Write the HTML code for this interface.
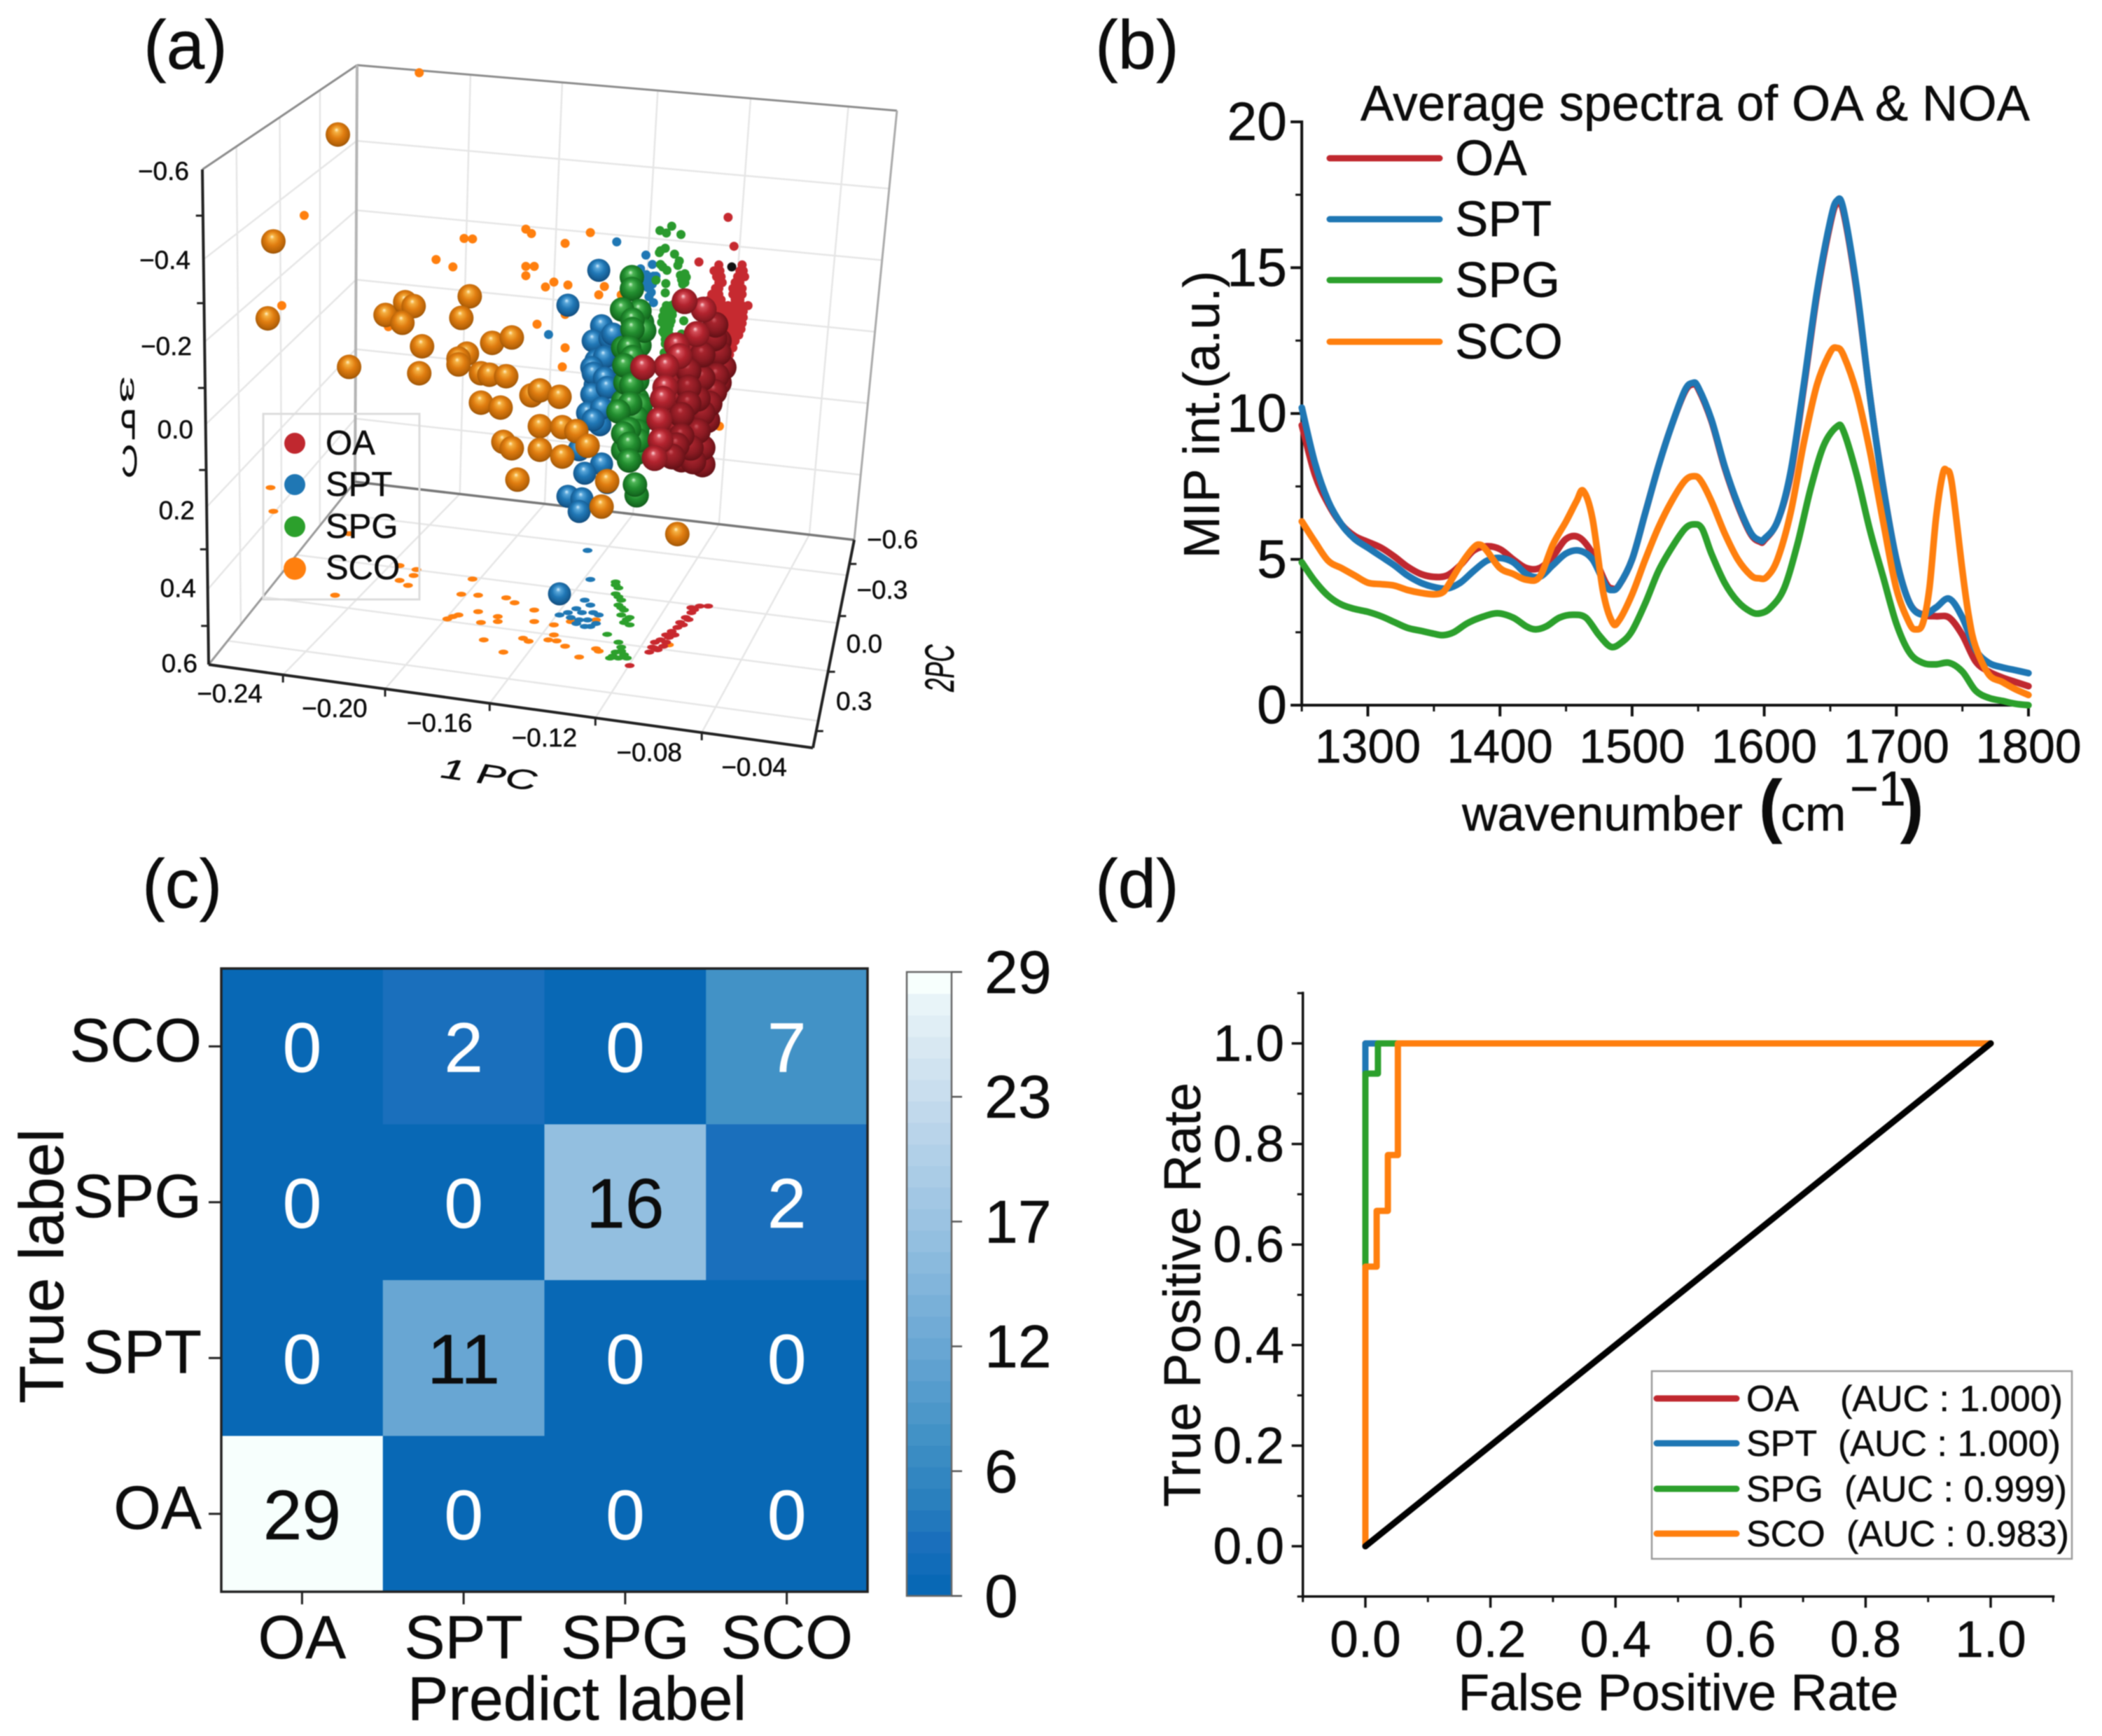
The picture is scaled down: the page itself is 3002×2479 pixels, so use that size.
<!DOCTYPE html>
<html lang="en">
<head>
<meta charset="utf-8">
<title>OA and NOA classification figure</title>
<style>
html,body{margin:0;padding:0;background:#fff;}
svg{display:block;filter:blur(0.7px);}
text{font-family:"Liberation Sans",sans-serif;fill:#0c0c0c;stroke:#0c0c0c;stroke-width:.5px;}
</style>
</head>
<body>
<svg id="figure" xmlns="http://www.w3.org/2000/svg" width="3002" height="2479" viewBox="0 0 3002 2479">
<defs>
<radialGradient id="ball-SCO" cx=".5" cy=".46" r=".56" fx=".44" fy=".3"><stop offset="0" stop-color="#fff4cc"/><stop offset=".17" stop-color="#f5b041"/><stop offset=".5" stop-color="#e07d10"/><stop offset=".85" stop-color="#b66207"/><stop offset="1" stop-color="#8e4c04"/></radialGradient>
<radialGradient id="ball-OA" cx=".5" cy=".46" r=".56" fx=".44" fy=".3"><stop offset="0" stop-color="#ffd8dc"/><stop offset=".18" stop-color="#d5505a"/><stop offset=".5" stop-color="#b2232e"/><stop offset=".85" stop-color="#8a1a22"/><stop offset="1" stop-color="#6e1218"/></radialGradient>
<radialGradient id="ball-OA-back" cx=".5" cy=".46" r=".56" fx=".44" fy=".3"><stop offset="0" stop-color="#cc5a62"/><stop offset=".2" stop-color="#a6242d"/><stop offset=".6" stop-color="#8a1a22"/><stop offset="1" stop-color="#5e0f14"/></radialGradient>
<radialGradient id="ball-SPT" cx=".5" cy=".46" r=".56" fx=".44" fy=".3"><stop offset="0" stop-color="#d8f0ff"/><stop offset=".18" stop-color="#58a6da"/><stop offset=".5" stop-color="#2178b6"/><stop offset=".85" stop-color="#155a90"/><stop offset="1" stop-color="#0e4270"/></radialGradient>
<radialGradient id="ball-SPG" cx=".5" cy=".46" r=".56" fx=".44" fy=".3"><stop offset="0" stop-color="#d8f8d8"/><stop offset=".18" stop-color="#4fb657"/><stop offset=".5" stop-color="#238f30"/><stop offset=".85" stop-color="#156c20"/><stop offset="1" stop-color="#0e5016"/></radialGradient>
</defs>

<g id="panel-letters" font-size="98">
<text x="205" y="98">(a)</text>
<text x="1564" y="98">(b)</text>
<text x="203" y="1296">(c)</text>
<text x="1564" y="1296">(d)</text>
</g>

<g id="panel-a"></g>
<g id="panel-a-text">
<g font-size="46">
<text transform="translate(172,537) rotate(90) scale(1.5,.6)">3</text>
<text transform="translate(195,627) scale(-.75,1.3)">P</text>
<text transform="translate(197,680) scale(-.7,1.35)">C</text>
</g>
<text font-size="40" transform="translate(628,1110) rotate(8) scale(1.55,1)" font-style="italic">1 PC</text>
<text font-size="58" transform="translate(1362,988) rotate(-90) scale(.6,1)" font-style="italic">2PC</text>
<rect x="376" y="591" width="223" height="265" fill="none" stroke="#dcdcdc" stroke-width="3"/>
<circle cx="421" cy="633" r="15" fill="#c0282f"/>
<circle cx="421" cy="692" r="15" fill="#1f77b4"/>
<circle cx="421" cy="752" r="15" fill="#2ca02c"/>
<circle cx="421" cy="812" r="16" fill="#ff7f0e"/>
<g font-size="49">
<text x="465" y="649">OA</text>
<text x="465" y="708">SPT</text>
<text x="465" y="768">SPG</text>
<text x="465" y="827">SCO</text>
</g>
</g>

<g id="panel-b"></g>
<g id="panel-b-text">
<text x="1943" y="172" font-size="71" textLength="956">Average spectra of OA &amp; NOA</text>
<text font-size="72" transform="translate(1741,592) rotate(-90)" text-anchor="middle">MIP int.(a.u.)</text>
<text x="2088" y="1186" font-size="70">wavenumber</text>
<text x="2512" y="1184" font-size="100" font-weight="bold">(</text>
<text x="2543" y="1186" font-size="70">cm</text>
<text x="2642" y="1150" font-size="70">−1</text>
<text x="2714" y="1184" font-size="100" font-weight="bold">)</text>
<g font-size="71">
<text x="2078" y="250">OA</text>
<text x="2078" y="337">SPT</text>
<text x="2078" y="424">SPG</text>
<text x="2078" y="512">SCO</text>
</g>
</g>

<g id="panel-c"></g>
<g id="panel-c-text">
<text x="824" y="2456" font-size="88" text-anchor="middle">Predict label</text>
<text font-size="89" transform="translate(90,1808) rotate(-90)" text-anchor="middle">True label</text>
</g>

<g id="panel-d"></g>
<g id="panel-d-text">
<text x="2397" y="2442" font-size="73" text-anchor="middle">False Positive Rate</text>
<text font-size="74" transform="translate(1714,1849) rotate(-90)" text-anchor="middle">True Positive Rate</text>
<rect x="2359" y="1958" width="600" height="268" fill="#fff" stroke="#9a9a9a" stroke-width="2.5"/>
<line x1="2366" x2="2480" y1="1997" y2="1997" stroke="#c0282f" stroke-width="9" stroke-linecap="round"/>
<line x1="2366" x2="2480" y1="2061" y2="2061" stroke="#1f77b4" stroke-width="9" stroke-linecap="round"/>
<line x1="2366" x2="2480" y1="2126" y2="2126" stroke="#2ca02c" stroke-width="9" stroke-linecap="round"/>
<line x1="2366" x2="2480" y1="2190" y2="2190" stroke="#ff7f0e" stroke-width="9" stroke-linecap="round"/>
<g font-size="52">
<text x="2494" y="2015">OA</text>
<text x="2628" y="2015">(AUC : 1.000)</text>
<text x="2494" y="2079">SPT</text>
<text x="2625" y="2079">(AUC : 1.000)</text>
<text x="2494" y="2144">SPG</text>
<text x="2634" y="2144">(AUC : 0.999)</text>
<text x="2494" y="2208">SCO</text>
<text x="2637" y="2208">(AUC : 0.983)</text>
</g>
</g>
</svg>

<script>
/* ---------- panel (a) data: PC scores ---------- */
const spheresSPT = [[-.102,-.162],[-.0986,-.138],[-.1003,-.105],[-.1053,-.086],[-.1028,-.057],[-.1003,-.052],[-.1061,-.038],[-.1036,-.005],[-.0995,-.167],[-.104,-.320],[-.115,-.249],[-.103,-.207],[-.106,-.176],[-.100,-.181],[-.099,-.190],[-.105,-.136],[-.102,-.143],[-.1065,-.122],[-.106,-.110],[-.102,-.100],[-.1065,-.067],[-.101,-.081],[-.108,-.029],[-.103,-.039],[-.106,-.015],[-.103,.075],[-.109,.094],[-.111,.046],[-.115,.141],[-.110,.146],[-.111,.172],[-.101,.113],[-.118,.340]];
const spheresSCO = [[-.197,-.597],[-.220,-.379],[-.222,-.222],[-.193,-.123],[-.180,-.229],[-.173,-.255],[-.170,-.247],[-.174,-.213],[-.150,-.267],[-.153,-.223],[-.167,-.165],[-.168,-.110],[-.142,-.172],[-.135,-.183],[-.151,-.150],[-.154,-.140],[-.154,-.128],[-.146,-.110],[-.143,-.107],[-.137,-.104],[-.146,-.050],[-.139,-.040],[-.128,-.065],[-.125,-.075],[-.118,-.062],[-.125,-.002],[-.117,0],[-.112,.008],[-.138,.030],[-.135,.043],[-.125,.046],[-.117,.060],[-.108,.038],[-.133,.107],[-.101,.110],[-.103,.162],[-.076,.218]];
const spheresSPG = [[-.0953,-.053],[-.0903,-.057],[-.0886,-.014],[-.092,-.024],[-.0895,-.167],[-.0953,-.162],[-.0945,-.091],[-.0903,-.095],[-.0903,.052],[-.0953,.047],[-.0941,.009],[-.0907,-.129],[-.0886,-.214],[-.0922,-.306],[-.0922,-.282],[-.0895,-.237],[-.0878,-.197],[-.0957,-.240],[-.092,-.219],[-.092,-.200],[-.0932,-.162],[-.092,-.143],[-.0949,-.126],[-.0924,-.086],[-.0891,-.044],[-.0907,-.020],[-.0928,-.048],[-.097,-.032],[-.0903,.008],[-.0899,.027],[-.0932,.004],[-.0953,.013],[-.0932,.034],[-.0932,.068],[-.0905,.139],[-.0911,.117]];
const spheresOABack = [[-.0637,-.138],[-.0703,-.162],[-.0612,-.091],[-.0653,-.014],[-.0778,-.091],[-.0762,-.062],[-.0778,-.029],[-.0762,.005],[-.072,-.005],[-.067,-.076],[-.0637,-.105],[-.0687,.047],[-.0612,-.176],[-.0653,-.162],[-.072,.066],[-.0745,.066],[-.0803,.052],[-.0778,.028],[-.062,-.133],[-.067,.076],[-.0703,-.124],[-.0687,-.019],[-.072,.028],[-.0595,-.122],[-.0612,-.152],[-.0628,-.181],[-.0624,-.209],[-.062,-.105],[-.0628,-.072],[-.0645,-.048],[-.067,-.100],[-.067,-.148],[-.067,-.029],[-.067,.042],[-.0687,-.058],[-.0687,.008],[-.0703,.070],[-.0712,.042],[-.072,-.115],[-.072,-.081],[-.072,-.048],[-.0745,-.025],[-.0745,.018],[-.0762,.037],[-.0778,.060]];
const spheresOA = [[-.0666,-.240],[-.0691,-.190],[-.0734,-.257],[-.0762,-.167],[-.0753,-.145],[-.0799,-.124],[-.0882,-.122],[-.0803,-.081],[-.0812,-.058],[-.0824,-.015],[-.082,.027],[-.0841,.063]];

const wallSCO = [[-.168,-.723],[-.209,-.432],[-.217,-.248],[-.152,-.385],[-.149,-.384],[-.162,-.342],[-.156,-.327],[-.130,-.404],[-.128,-.395],[-.116,-.375],[-.107,-.397],[-.130,-.328],[-.127,-.328],[-.130,-.309],[-.123,-.286],[-.120,-.296],[-.115,-.290],[-.102,-.287],[-.104,-.270],[-.096,-.270],[-.126,-.210],[-.116,-.230],[-.116,-.162],[-.117,-.123],[-.179,-.205],[-.061,-.002]];
const wallSPT = [[-.0976,-.378],[-.0872,-.351],[-.0849,-.332],[-.0891,-.323],[-.1219,-.189],[-.0861,-.304],[-.0874,-.294],[-.0845,-.308],[-.0866,-.285],[-.0853,-.275],[-.0861,-.266],[-.0845,-.254],[-.0849,-.292],[-.087,-.311],[-.0836,-.308]];
const wallSPG = [[-.078,-.410],[-.0822,-.401],[-.0799,-.396],[-.0747,-.393],[-.082,-.360],[-.0803,-.365],[-.0824,-.356],[-.077,-.353],[-.0753,-.339],[-.082,-.332],[-.0812,-.327],[-.0797,-.320],[-.0733,-.313],[-.0745,-.301],[-.0728,-.306],[-.0836,-.300],[-.0801,-.293],[-.0741,-.292],[-.0803,-.274],[-.0791,-.247],[-.0803,-.228],[-.0778,-.237],[-.0807,-.209],[-.0787,-.209],[-.0799,-.185],[-.0782,-.185],[-.0737,-.217],[-.0745,-.190],[-.0807,-.152],[-.0812,-.195],[-.077,-.252],[-.0787,-.223],[-.0803,-.170],[-.0791,-.160],[-.0799,-.248],[-.0782,-.248],[-.0807,-.238],[-.0791,-.238],[-.0774,-.243],[-.0812,-.226],[-.0795,-.226],[-.0778,-.229],[-.0816,-.214],[-.0799,-.214],[-.0782,-.217],[-.0807,-.2],[-.0791,-.2],[-.0807,-.191],[-.0791,-.191],[-.0803,-.179],[-.0787,-.186],[-.0758,-.33],[-.0749,-.31],[-.0741,-.3],[-.0733,-.295]];
const wallOA = [[-.0579,-.428],[-.0558,-.369],[-.0683,-.337],[-.0612,-.331],[-.0529,-.331],[-.0629,-.319],[-.0608,-.319],[-.0537,-.319],[-.0525,-.319],[-.062,-.307],[-.0604,-.307],[-.0545,-.307],[-.052,-.307],[-.0612,-.295],[-.06,-.295],[-.0554,-.295],[-.0537,-.295],[-.0624,-.283],[-.0612,-.283],[-.0562,-.283],[-.0541,-.283],[-.0529,-.283],[-.0637,-.271],[-.0612,-.271],[-.0562,-.271],[-.0545,-.271],[-.0529,-.271],[-.0645,-.26],[-.0629,-.26],[-.0604,-.26],[-.0554,-.26],[-.0537,-.26],[-.0629,-.248],[-.0612,-.248],[-.0595,-.248],[-.0579,-.248],[-.0562,-.248],[-.0545,-.248],[-.0529,-.248],[-.0508,-.248],[-.062,-.236],[-.0604,-.236],[-.0587,-.236],[-.057,-.236],[-.0554,-.236],[-.0537,-.236],[-.0525,-.236],[-.0587,-.224],[-.057,-.224],[-.0554,-.224],[-.0537,-.224],[-.0525,-.224],[-.0579,-.212],[-.0562,-.212],[-.0545,-.212],[-.0529,-.212],[-.0579,-.2],[-.0562,-.2],[-.0545,-.2],[-.0533,-.2],[-.057,-.188],[-.0554,-.188],[-.0541,-.188],[-.057,-.176],[-.0554,-.176],[-.0574,-.162],[-.0562,-.162],[-.0574,-.148]];
const wallBlack = [[-.0566,-.327]];

const floorSCO = [[-.221,-.708],[-.220,-.588],[-.193,-.475],[-.175,-.313],[-.169,-.293],[-.175,-.238],[-.170,-.263],[-.172,-.213],[-.198,-.163],[-.149,-.245],[-.153,-.168],[-.147,-.163],[-.137,-.150],[-.134,-.125],[-.127,-.088],[-.147,-.080],[-.156,-.055],[-.158,-.043],[-.154,-.063],[-.140,-.055],[-.146,-.025],[-.140,-.030],[-.127,-.030],[-.120,-.013],[-.114,-.030],[-.120,.038],[-.145,.063],[-.131,.055],[-.129,.070],[-.122,.063],[-.119,.068],[-.138,.125],[-.116,.095],[-.111,.150],[-.105,.108],[-.104,.120],[-.105,-.038],[-.079,.088]];
const floorSPT = [[-.108,-.390],[-.107,-.243],[-.109,-.138],[-.107,-.113],[-.112,-.095],[-.115,-.075],[-.118,-.063],[-.114,-.050],[-.110,-.075],[-.106,-.075],[-.104,-.063],[-.111,-.038],[-.108,-.038],[-.105,-.020],[-.112,-.020],[-.109,-.005],[-.107,-.005]];
const floorSPG = [[-.098,-.230],[-.097,-.200],[-.098,-.170],[-.096,-.138],[-.097,-.113],[-.095,-.088],[-.096,-.063],[-.093,-.050],[-.095,-.025],[-.093,-.013],[-.101,.035],[-.097,.075],[-.096,.100],[-.098,.125],[-.095,.138],[-.100,.155],[-.097,.155],[-.094,.155],[-.098,-.215],[-.097,-.155],[-.096,-.100],[-.094,-.040],[-.099,.145],[-.096,.120]];
const floorOA = [[-.065,-.108],[-.068,-.108],[-.071,-.100],[-.071,-.075],[-.073,-.050],[-.075,-.025],[-.076,0],[-.078,.020],[-.080,.038],[-.082,.063],[-.084,.075],[-.085,.100],[-.086,.125],[-.083,.113],[-.080,.075],[-.077,.038],[-.074,-.013],[-.093,.193],[-.070,-.090],[-.072,-.040],[-.079,.050],[-.081,.095],[-.084,.105]];

const pc1TickLabels = [-0.24,-0.20,-0.16,-0.12,-0.08,-0.04];
const pc2TickLabels = [-0.6,-0.3,0.0,0.3];
const pc3TickLabels = [-0.6,-0.4,-0.2,0.0,0.2,0.4,0.6];

/* ---------- panel (b) data ---------- */
const sharedWavenumbers = [1250,1260,1270,1280,1290,1300,1310,1320,1330,1340,1350,1360,1370,1380,1390,1400,1410,1420,1430,1440,1450,1460,1470,1480,1485,1490,1500,1510,1520,1530,1540,1546,1550,1560,1570,1580,1590,1597,1600,1610,1620,1630,1640,1650,1655,1660,1670,1680,1690,1700,1710,1720,1730,1740,1750,1760,1770,1780,1790,1800];
const intensityOA = [9.6,7.9,6.9,6.2,5.8,5.6,5.4,5.1,4.75,4.5,4.4,4.45,4.8,5.3,5.45,5.35,5,4.7,4.7,5.1,5.7,5.75,5.2,4.2,4,4.1,5,6.6,8.2,9.6,10.75,11,10.85,9.75,8.15,6.85,5.85,5.6,5.65,6.3,7.9,10.9,14.1,16.5,17.2,16.9,14.2,10.6,7.5,5,3.5,3.1,3.05,3,2.4,1.5,1.15,.95,.8,.65];
const intensitySPT = [10.2,8.3,7,6.2,5.7,5.4,5.1,4.8,4.45,4.2,4.05,4,4.2,4.6,4.95,5.05,4.9,4.5,4.4,4.8,5.2,5.3,5,4.1,3.95,4.1,5,6.6,8.2,9.6,10.8,11.05,10.9,9.8,8.2,6.9,5.9,5.65,5.7,6.3,8,11,14.2,16.6,17.3,17,14.3,10.6,7.5,5,3.5,3.1,3.35,3.65,3,1.9,1.45,1.3,1.2,1.1];
const spectrumSPG = [[1250,4.9],[1260,4.25],[1270,3.75],[1280,3.45],[1290,3.3],[1300,3.2],[1310,3.05],[1320,2.85],[1330,2.65],[1340,2.55],[1350,2.45],[1357,2.4],[1365,2.5],[1375,2.8],[1385,3],[1398,3.15],[1410,3],[1420,2.7],[1427,2.6],[1435,2.7],[1445,3],[1455,3.1],[1465,3],[1475,2.4],[1484,2],[1492,2.15],[1500,2.55],[1510,3.5],[1520,4.6],[1530,5.4],[1540,6.05],[1547,6.2],[1553,6.05],[1560,5.2],[1570,4.2],[1580,3.55],[1590,3.2],[1597,3.15],[1605,3.35],[1615,4],[1625,5.5],[1635,7.4],[1645,8.9],[1655,9.55],[1660,9.4],[1670,7.9],[1680,6],[1690,4.4],[1700,2.8],[1710,1.8],[1720,1.45],[1730,1.4],[1740,1.45],[1750,1.15],[1760,.5],[1770,.25],[1780,.15],[1790,.05],[1800,0]];
const spectrumSCO = [[1250,6.3],[1260,5.6],[1270,4.95],[1280,4.7],[1290,4.45],[1300,4.2],[1310,4.15],[1320,4.1],[1330,3.95],[1340,3.85],[1350,3.8],[1356,3.85],[1360,4.05],[1370,4.8],[1380,5.4],[1385,5.5],[1390,5.3],[1400,4.7],[1410,4.5],[1420,4.3],[1430,4.4],[1440,5.5],[1450,6.3],[1458,7],[1463,7.35],[1470,6.4],[1478,3.9],[1485,2.85],[1490,2.9],[1500,3.8],[1510,5],[1520,6.1],[1530,7],[1540,7.7],[1547,7.85],[1552,7.7],[1560,7],[1570,5.9],[1580,5],[1590,4.45],[1596,4.35],[1602,4.4],[1610,5],[1620,6.6],[1630,9],[1640,11],[1650,12.1],[1655,12.25],[1660,12],[1670,10.7],[1680,8.7],[1690,6.3],[1700,4],[1710,2.8],[1715,2.6],[1720,2.8],[1725,4],[1730,6.4],[1735,7.9],[1738,8.05],[1742,7.6],[1750,4.6],[1755,3],[1760,2],[1770,1.05],[1780,.8],[1790,.55],[1800,.35]];
const spectraXTicks = [1300,1400,1500,1600,1700,1800];
const spectraXMinor = [1250,1350,1450,1550,1650,1750];
const spectraYTicks = [0,5,10,15,20];
const spectraYMinor = [2.5,7.5,12.5,17.5];

/* ---------- panel (c) data ---------- */
const predictLabels = ['OA','SPT','SPG','SCO'];
const trueLabels = ['SCO','SPG','SPT','OA'];
const matrixRowSCO = [0,2,0,7];
const matrixRowSPG = [0,0,16,2];
const matrixRowSPT = [0,11,0,0];
const matrixRowOA = [29,0,0,0];
const colorbarTicks = [0,5.8,11.6,17.4,23.2,29];
const colorbarLabels = ['0','6','12','17','23','29'];

/* ---------- panel (d) data ---------- */
const fprOA = [0,0,1];
const tprOA = [0,1,1];
const fprSPT = [0,0,1];
const tprSPT = [0,1,1];
const fprSPG = [0,0,.02,.02,1];
const tprSPG = [0,.94,.94,1,1];
const fprSCO = [0,0,.018,.018,.036,.036,.052,.052,1];
const tprSCO = [0,.556,.556,.667,.667,.778,.778,1,1];
const fprChance = [0,1];
const tprChance = [0,1];
const rocTicks = [0,.2,.4,.6,.8,1];
const rocMinor = [-.1,.1,.3,.5,.7,.9,1.1];

/* ---------- helpers ---------- */
const NS = 'http://www.w3.org/2000/svg';
function mk(tag, attrs, parent){
  const el = document.createElementNS(NS, tag);
  for (const k in attrs) el.setAttribute(k, attrs[k]);
  parent.appendChild(el);
  return el;
}
function smoothPath(pts){
  let d = 'M' + pts[0][0].toFixed(1) + ' ' + pts[0][1].toFixed(1);
  for (let i = 0; i < pts.length - 1; i++){
    const p0 = pts[Math.max(0,i-1)], p1 = pts[i], p2 = pts[i+1], p3 = pts[Math.min(pts.length-1,i+2)];
    const c1x = p1[0] + (p2[0]-p0[0])/6, c1y = p1[1] + (p2[1]-p0[1])/6;
    const c2x = p2[0] - (p3[0]-p1[0])/6, c2y = p2[1] - (p3[1]-p1[1])/6;
    d += 'C' + c1x.toFixed(1) + ' ' + c1y.toFixed(1) + ' ' + c2x.toFixed(1) + ' ' + c2y.toFixed(1) + ' ' + p2[0].toFixed(1) + ' ' + p2[1].toFixed(1);
  }
  return d;
}
const fmtMinus = v => String(v).replace('-', '\u2212');

/* ---------- panel (a) ---------- */
(function(){
  const g = document.getElementById('panel-a');
  const pc1X = v => 150 + (v + 0.28) * 4006.5;
  const pc3Y = v => 50 + (v + 0.8) * 700;
  const pc2Y = v => 50 + (v + 3) * 282;
  const A=[289,242], B=[510,93], C=[1281,158], D=[1220,771], E=[507,688], F=[298,949], G=[1161,1068];
  const lerp = (p,q,t) => [p[0]+(q[0]-p[0])*t, p[1]+(q[1]-p[1])*t];
  function seg(p,q,color,w,name){
    const el = mk('line',{x1:p[0],y1:p[1],x2:q[0],y2:q[1],stroke:color,'stroke-width':w},g);
    
    
    return el;
  }
  const gridColor = '#e6e6e6';
  const backU = [.21,.38,.557,.729,.91];
  const frontU = [.123,.292,.465,.64,.816];
  backU.forEach((u,i)=>{
    seg(lerp(B,C,u),lerp(E,D,u),gridColor,2.5,'back-wall-gridline');
    seg(lerp(E,D,u),lerp(F,G,frontU[i]),gridColor,2.5,'floor-gridline');
  });
  pc3TickLabels.slice(1,-1).forEach(v=>{
    const t = (v+0.6)/1.2 + .015;
    const l = lerp(B,E,t), r = lerp(C,D,t), f = lerp(A,F,t);
    seg(l,r,gridColor,2.5,'back-wall-gridline');
    seg(f,l,gridColor,2.5,'side-wall-gridline');
  });
  [.22,.5,.76].forEach(w=>{
    seg(lerp(A,B,w),lerp(F,E,w),gridColor,2.5,'side-wall-gridline');
  });
  [.17,.4,.63,.87].forEach(t=>{
    seg(lerp(E,F,t),lerp(D,G,t),gridColor,2.5,'floor-gridline');
  });
  seg(A,B,'#8c8c8c',3,'box-edge');
  seg(B,C,'#8c8c8c',3,'box-edge');
  seg(C,D,'#aaaaaa',3,'box-edge');
  seg(B,E,'#b4b4b4',4,'box-edge');
  seg(E,F,'#9a9a9a',3,'box-edge');
  seg(E,D,'#777777',3.5,'box-edge');
  seg(A,F,'#222222',4,'pc3-axis-line');
  seg(F,G,'#222222',4,'pc1-axis-line');
  seg(G,D,'#222222',4,'pc2-axis-line');

  /* axis ticks and labels */
  const pc3Pos = t => 244 + 703*(t*1.1 - 0.1*t*t);
  pc3TickLabels.forEach(v=>{
    const t = (v+0.6)/1.2;
    const lb = mk('text',{x:270+t*12,y:pc3Pos(t)+13,'text-anchor':'end','font-size':37},g);
    
    
    lb.textContent = fmtMinus(v.toFixed(1));
    if (v < 0.6){
      const t2 = t + 1/12;
      const ym = pc3Pos(t2);
      const xm = 289 + t2*9;
      const mn = mk('line',{x1:xm-10,y1:ym,x2:xm,y2:ym,stroke:'#222','stroke-width':3},g);
      
      
    }
  });
  pc1TickLabels.forEach(v=>{
    const t = (v+0.24)/0.2;
    const x = 328 + t*749, y = 990 + t*105;
    const lb = mk('text',{x:x,y:y+13,'text-anchor':'middle','font-size':37},g);
    
    
    lb.textContent = fmtMinus(v.toFixed(2));
  });
  frontU.forEach(u=>{
    const p = lerp(F,G,u);
    const tk = mk('line',{x1:p[0],y1:p[1],x2:p[0],y2:p[1]+11,stroke:'#222','stroke-width':3},g);
    
    
  });
  const pc2Pos = t => 770 + 231*(t*.9 + .1*t*t);
  pc2TickLabels.forEach(v=>{
    const t = (v+0.6)/0.9;
    const y = pc2Pos(t);
    const lb = mk('text',{x:1238-44*t,y:y+13,'font-size':37},g);
    
    
    lb.textContent = fmtMinus(v.toFixed(1));
    const ym = pc2Pos(t + 1/6);
    const pm = lerp(D,G,(ym-771)/297);
    const tk = mk('line',{x1:pm[0],y1:pm[1],x2:pm[0]+10,y2:pm[1],stroke:'#222','stroke-width':3},g);
    
    
  });

  /* floor projection marks */
  function floorDots(rows,color,name){
    rows.forEach(r=>{
      const el = mk('ellipse',{cx:pc1X(r[0]),cy:pc2Y(r[1]),rx:7,ry:3.6,fill:color},g);
      
      
    });
  }
  floorDots(floorSCO,'#ff7f0e','floor-point-sco');
  floorDots(floorSPT,'#1f77b4','floor-point-spt');
  floorDots(floorSPG,'#2ca02c','floor-point-spg');
  floorDots(floorOA,'#c8282e','floor-point-oa');

  /* back wall projection marks */
  function wallDots(rows,color,name){
    rows.forEach(r=>{
      const el = mk('circle',{cx:pc1X(r[0]),cy:pc3Y(r[1]),r:6.5,fill:color},g);
      
      
    });
  }
  wallDots(wallSCO,'#ff7f0e','wall-point-sco');
  wallDots(wallSPT,'#1f77b4','wall-point-spt');
  wallDots(wallSPG,'#2a9a2e','wall-point-spg');
  wallDots(wallOA,'#c62a30','wall-point-oa');
  wallDots(wallBlack,'#111111','wall-point-outlier');

  /* spheres */
  function spheres(rows,grad,rad,name){
    rows.forEach(r=>{
      const el = mk('circle',{cx:pc1X(r[0]),cy:pc3Y(r[1]),r:rad,fill:'url(#'+grad+')'},g);
      
      
    });
  }
  spheres(spheresSPT,'ball-SPT',16.5,'sphere-spt');
  spheres(spheresSCO,'ball-SCO',17.5,'sphere-sco');
  spheres(spheresSPG,'ball-SPG',17.5,'sphere-spg');
  spheres(spheresOABack,'ball-OA-back',18.5,'sphere-oa');
  spheres(spheresOA,'ball-OA',18.5,'sphere-oa');
})();

/* ---------- panel (b) ---------- */
(function(){
  const g = document.getElementById('panel-b');
  const xS = v => 2897 - (1800-v)*1.887;
  const yS = v => 1007 - v/20*833;
  function ln(x1,y1,x2,y2,w,name){
    const el = mk('line',{x1:x1,y1:y1,x2:x2,y2:y2,stroke:'#111','stroke-width':w},g);
    
    
  }
  ln(xS(1250),172,xS(1250),1009,4,'spectra-y-axis');
  ln(xS(1250)-2,1007,2899,1007,4,'spectra-x-axis');
  spectraXTicks.forEach(v=>{
    ln(xS(v),1007,xS(v),1023,4,'spectra-x-tick');
    const t = mk('text',{x:xS(v),y:1089,'text-anchor':'middle','font-size':68},g);
    
    
    t.textContent = v;
  });
  spectraXMinor.forEach(v=>{ ln(xS(v),1007,xS(v),1016,3,'spectra-x-minor-tick'); });
  spectraYTicks.forEach(v=>{
    ln(xS(1250)-16,yS(v),xS(1250),yS(v),4,'spectra-y-tick');
    const t = mk('text',{x:1838,y:yS(v)+26,'text-anchor':'end','font-size':77},g);
    
    
    t.textContent = v;
  });
  spectraYMinor.forEach(v=>{ ln(xS(1250)-9,yS(v),xS(1250),yS(v),3,'spectra-y-minor-tick'); });

  function curve(points,color,name){
    const el = mk('path',{d:smoothPath(points.map(p=>[xS(p[0]),yS(p[1])])),fill:'none',stroke:color,'stroke-width':9.5,'stroke-linejoin':'round','stroke-linecap':'round'},g);
    
    
  }
  curve(sharedWavenumbers.map((w,i)=>[w,intensityOA[i]]),'#c0282f','spectrum-oa');
  curve(sharedWavenumbers.map((w,i)=>[w,intensitySPT[i]]),'#1f77b4','spectrum-spt');
  curve(spectrumSPG,'#2ca02c','spectrum-spg');
  curve(spectrumSCO,'#ff7f0e','spectrum-sco');

  function key(y,color,name){
    const el = mk('line',{x1:1899,x2:2056,y1:y,y2:y,stroke:color,'stroke-width':9,'stroke-linecap':'round'},g);
    
    
  }
  key(226,'#c0282f','spectra-legend-oa-line');
  key(313,'#1f77b4','spectra-legend-spt-line');
  key(400,'#2ca02c','spectra-legend-spg-line');
  key(488,'#ff7f0e','spectra-legend-sco-line');
})();

/* ---------- panel (c) ---------- */
(function(){
  const g = document.getElementById('panel-c');
  const stopVals = [0,2,4,7,11,16,21,25,29];
  const stopRGB = [[8,104,181],[26,111,188],[42,128,190],[66,146,198],[104,166,211],[147,191,224],[185,212,234],[216,232,242],[247,255,253]];
  function color(v){
    let i = 0;
    while (i < stopVals.length-2 && v > stopVals[i+1]) i++;
    const t = (v-stopVals[i])/(stopVals[i+1]-stopVals[i]);
    const c = stopRGB[i].map((a,k)=>Math.round(a+(stopRGB[i+1][k]-a)*t));
    return 'rgb('+c.join(',')+')';
  }
  const matrix = [matrixRowSCO,matrixRowSPG,matrixRowSPT,matrixRowOA];
  const X0=316, Y0=1383, CW=230.75, CH=222.5;
  const colX = i => X0 + i*CW;
  const rowY = j => Y0 + j*CH;
  matrix.forEach((row,j)=>{
    row.forEach((v,i)=>{
      const c = mk('rect',{x:colX(i),y:rowY(j),width:CW+.5,height:CH+.5,fill:color(v)},g);
      
      
      const t = mk('text',{x:colX(i)+CW/2,y:rowY(j)+CH/2+36,'text-anchor':'middle','font-size':100},g);
      
      
      const shade = v >= 10 ? '#0c0c0c' : '#ffffff';
      t.style.fill = shade;
      t.style.stroke = shade;
      t.textContent = v;
    });
  });
  const frame = mk('rect',{x:X0,y:Y0,width:CW*4,height:CH*4,fill:'none',stroke:'#222','stroke-width':3.5},g);
  
  
  predictLabels.forEach((s,i)=>{
    const x = colX(i)+CW/2;
    const tk = mk('line',{x1:x,x2:x,y1:Y0+CH*4,y2:Y0+CH*4+18,stroke:'#222','stroke-width':3},g);
    
    
    const t = mk('text',{x:x,y:2368,'text-anchor':'middle','font-size':87},g);
    
    
    t.textContent = s;
  });
  trueLabels.forEach((s,j)=>{
    const y = rowY(j)+CH/2;
    const tk = mk('line',{x1:X0-18,x2:X0,y1:y,y2:y,stroke:'#222','stroke-width':3},g);
    
    
    const t = mk('text',{x:288,y:y+21,'text-anchor':'end','font-size':87},g);
    
    
    t.textContent = s;
  });
  /* colour bar */
  const cbY = v => 2279 - v/29*891;
  for (let i = 0; i < 29; i++){
    const band = mk('rect',{x:1295,y:cbY(i+1),width:64,height:cbY(i)-cbY(i+1)+.6,fill:color(i === 28 ? 29 : i)},g);
    
    
  }
  const cbFrame = mk('rect',{x:1295,y:1388,width:64,height:891,fill:'none',stroke:'#666','stroke-width':2.5},g);
  
  
  colorbarTicks.forEach((v,i)=>{
    const tk = mk('line',{x1:1359,x2:1374,y1:cbY(v),y2:cbY(v),stroke:'#555','stroke-width':2.5},g);
    
    
    const t = mk('text',{x:1406,y:cbY(v)+30,'font-size':86},g);
    
    
    t.textContent = colorbarLabels[i];
  });
})();

/* ---------- panel (d) ---------- */
(function(){
  const g = document.getElementById('panel-d');
  const xS = v => 1950 + v*893;
  const yS = v => 2208 - v*718;
  function ln(x1,y1,x2,y2,w,name){
    const el = mk('line',{x1:x1,y1:y1,x2:x2,y2:y2,stroke:'#111','stroke-width':w},g);
    
    
  }
  ln(xS(-.1),yS(1.1)-2,xS(-.1),yS(-.1)+2,3.5,'roc-y-axis');
  ln(xS(-.1)-2,yS(-.1),xS(1.1)+2,yS(-.1),3.5,'roc-x-axis');
  rocTicks.forEach(v=>{
    ln(xS(-.1)-16,yS(v),xS(-.1),yS(v),3.5,'roc-y-tick');
    ln(xS(v),yS(-.1),xS(v),yS(-.1)+16,3.5,'roc-x-tick');
    const a = mk('text',{x:1834,y:yS(v)+25,'text-anchor':'end','font-size':73},g);
    
    
    a.textContent = v.toFixed(1);
    const b = mk('text',{x:xS(v),y:2366,'text-anchor':'middle','font-size':73},g);
    
    
    b.textContent = v.toFixed(1);
  });
  rocMinor.forEach(v=>{
    ln(xS(-.1)-8,yS(v),xS(-.1),yS(v),3,'roc-y-minor-tick');
    ln(xS(v),yS(-.1),xS(v),yS(-.1)+8,3,'roc-x-minor-tick');
  });
  function curve(fx,ty,color,name){
    const d = fx.map((v,i)=>(i?'L':'M')+xS(v).toFixed(1)+' '+yS(ty[i]).toFixed(1)).join('');
    const el = mk('path',{d:d,fill:'none',stroke:color,'stroke-width':9,'stroke-linejoin':'round','stroke-linecap':'round'},g);
    
    
  }
  curve(fprOA,tprOA,'#c0282f','roc-curve-oa');
  curve(fprSPT,tprSPT,'#1f77b4','roc-curve-spt');
  curve(fprSPG,tprSPG,'#2ca02c','roc-curve-spg');
  curve(fprSCO,tprSCO,'#ff7f0e','roc-curve-sco');
  curve(fprChance,tprChance,'#000000','roc-chance-diagonal');
})();
</script>
</body>
</html>
